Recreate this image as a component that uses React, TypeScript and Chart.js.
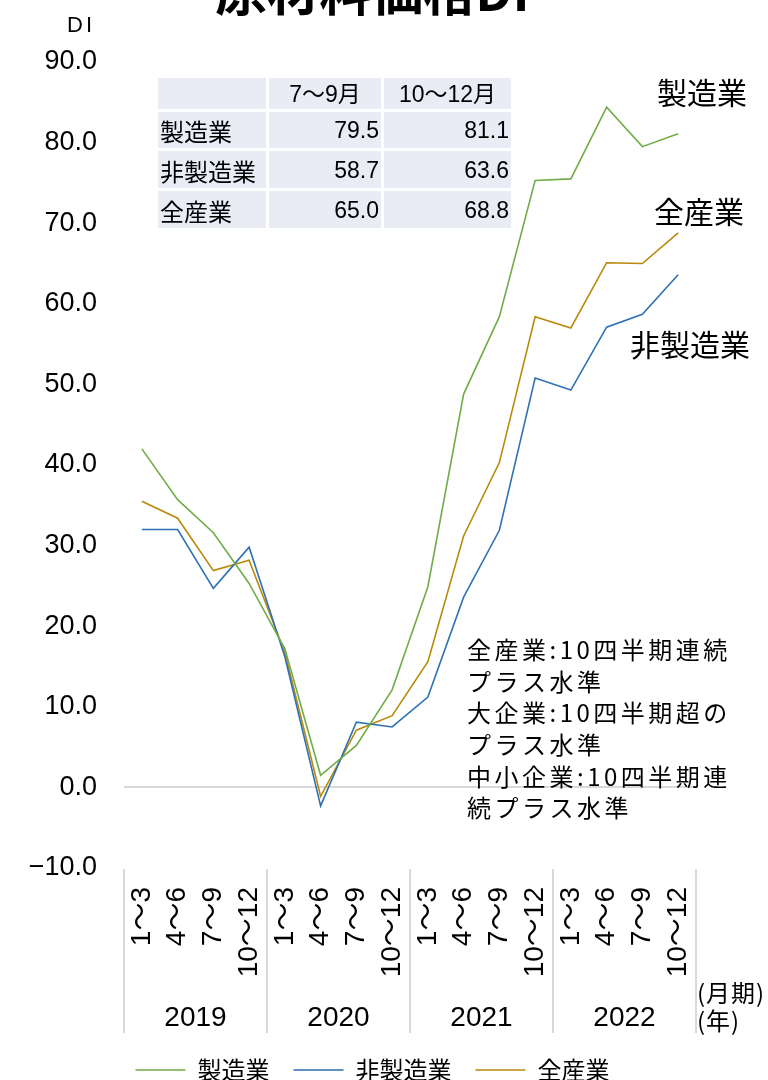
import React, { useEffect, useRef } from "react";
import { Chart, registerables } from "chart.js";

Chart.register(...registerables);

// ---- data ----
const chartTitle = "原材料価格DI";
const yUnit = "DI";
const years = ["2019", "2020", "2021", "2022"];
const quarters = ["1～3", "4～6", "7～9", "10～12"];
const seriesNames = ["製造業", "非製造業", "全産業"];
const manufacturing = [42.0, 35.7, 31.6, 25.3, 17.2, 1.5, 5.2, 12.1, 24.9, 48.8, 58.4, 75.3, 75.5, 84.4, 79.5, 81.1];
const nonManufacturing = [32.0, 32.0, 24.7, 29.8, 16.2, -2.3, 8.1, 7.5, 11.2, 23.6, 31.9, 50.8, 49.3, 57.1, 58.7, 63.6];
const allIndustries = [35.5, 33.4, 26.9, 28.2, 16.7, -1.1, 7.1, 8.9, 15.6, 31.2, 40.3, 58.4, 57.0, 65.1, 65.0, 68.8];
const yMin = -10;
const yMax = 90;
const yStep = 10;
const tableHeaders = ["7～9月", "10～12月"];
const tableRows = ["製造業", "非製造業", "全産業"];
const tableValues = [
  ["79.5", "81.1"],
  ["58.7", "63.6"],
  ["65.0", "68.8"],
];
const notes = [
  "全産業:10四半期連続",
  "プラス水準",
  "大企業:10四半期超の",
  "プラス水準",
  "中小企業:10四半期連",
  "続プラス水準",
];
const axisUnits = ["(月期)", "(年)"];

// ---- styles ----
const COLORS = ["#70AD47", "#2E72B4", "#B8890A"];
const LATIN = '"Liberation Sans", Arial, "Noto Sans CJK JP", sans-serif';
const CJK = '"Noto Sans CJK JP", "Noto Sans CJK SC", sans-serif';
const OFF = 40; // canvas is shifted up by this amount on the page
const CANVAS_H = 1132;

const quarterLabels: string[] = [];
years.forEach(() => quarters.forEach((q) => quarterLabels.push(q)));

const overlayPlugin = {
  id: "overlay",
  afterLayout(chart: any) {
    // let the y tick labels extend into the left padding without being clipped
    const ys = chart.scales.y;
    ys.left = 0;
    ys.width = ys.right;
  },
  afterDraw(chart: any) {
    const ctx = chart.ctx;
    const xs = chart.scales.x;
    const ca = chart.chartArea;
    // year separators
    const step = xs.getPixelForValue(1) - xs.getPixelForValue(0);
    ctx.save();
    ctx.strokeStyle = "#D9D9D9";
    ctx.lineWidth = 2;
    for (let k = 0; k <= years.length; k++) {
      const idx = k * quarters.length;
      const x = k < years.length ? xs.getPixelForValue(idx) - step / 2 : xs.getPixelForValue(idx - 1) + step / 2;
      ctx.beginPath();
      ctx.moveTo(x, ca.bottom + 1);
      ctx.lineTo(x, 1033 + OFF);
      ctx.stroke();
    }
    ctx.restore();

    ctx.save();
    ctx.translate(0, OFF);
    ctx.fillStyle = "#000";
    ctx.textBaseline = "middle";

    // DI unit
    ctx.font = `22px ${LATIN}`;
    ctx.textAlign = "center";
    (ctx as any).letterSpacing = "3px";
    ctx.fillText(yUnit, 81, 26);
    (ctx as any).letterSpacing = "0px";

    // table
    const colX = [
      [158, 266],
      [269, 381],
      [384, 511],
    ];
    const rowY = [
      [78, 109],
      [112, 148],
      [151, 188],
      [191, 228],
    ];
    ctx.fillStyle = "#E9EBF5";
    rowY.forEach((r) => colX.forEach((c) => ctx.fillRect(c[0], r[0], c[1] - c[0], r[1] - r[0])));
    ctx.fillStyle = "#000";
    ctx.font = `23px ${LATIN}`;
    ctx.textAlign = "center";
    tableHeaders.forEach((h, i) => {
      const c = colX[i + 1];
      ctx.fillText(h, (c[0] + c[1]) / 2, (rowY[0][0] + rowY[0][1]) / 2 + 2);
    });
    tableRows.forEach((name, r) => {
      const ry = rowY[r + 1];
      const cy = (ry[0] + ry[1]) / 2 + 2;
      ctx.font = `24px ${CJK}`;
      ctx.textAlign = "left";
      ctx.fillText(name, colX[0][0] + 2, cy);
      ctx.font = `23px ${LATIN}`;
      ctx.textAlign = "right";
      tableValues[r].forEach((v, j) => {
        ctx.fillText(v, colX[j + 1][1] - 2, cy);
      });
    });

    // series labels on the right
    ctx.font = `30px ${CJK}`;
    ctx.textAlign = "left";
    ctx.fillText(seriesNames[0], 657, 93);
    ctx.fillText(seriesNames[2], 654, 212);
    ctx.fillText(seriesNames[1], 630, 345);

    // notes
    ctx.font = `24px ${CJK}`;
    (ctx as any).letterSpacing = "3.5px";
    const noteY = [650, 682, 713, 745, 777, 808];
    notes.forEach((t, i) => ctx.fillText(t, 467, noteY[i]));
    (ctx as any).letterSpacing = "0px";

    // axis units
    ctx.font = `24px ${CJK}`;
    (ctx as any).letterSpacing = "1px";
    ctx.fillText(axisUnits[0], 697, 993);
    ctx.fillText(axisUnits[1], 697, 1021);
    (ctx as any).letterSpacing = "0px";
    ctx.restore();
  },
};

export default function App() {
  const ref = useRef<HTMLCanvasElement>(null);
  useEffect(() => {
    if (!ref.current) return;
    const mk = (label: string, data: number[], color: string) => ({
      label,
      data,
      borderColor: color,
      backgroundColor: color,
      borderWidth: 1.6,
      pointRadius: 0,
      tension: 0,
      fill: false,
    });
    const chart = new Chart(ref.current, {
      type: "line",
      data: {
        labels: quarterLabels,
        datasets: [
          mk(seriesNames[0], manufacturing, COLORS[0]),
          mk(seriesNames[1], nonManufacturing, COLORS[1]),
          mk(seriesNames[2], allIndustries, COLORS[2]),
        ],
      },
      options: {
        responsive: false,
        devicePixelRatio: 1,
        animation: false,
        events: [],
        layout: { padding: { left: 49, right: 72, top: 0, bottom: 0 } },
        scales: {
          x: {
            type: "category",
            offset: true,
            weight: 0,
            grid: { display: false, drawTicks: false },
            border: { display: false },
            ticks: {
              autoSkip: false,
              minRotation: 90,
              maxRotation: 90,
              padding: 19,
              color: "#000",
              font: { size: 28, family: LATIN },
            },
            afterFit: (s: any) => {
              s.height = 122;
            },
          },
          x2: {
            type: "category",
            labels: years,
            position: "bottom",
            offset: true,
            weight: 1,
            grid: { display: false, drawTicks: false },
            border: { display: false },
            ticks: {
              autoSkip: false,
              maxRotation: 0,
              minRotation: 0,
              padding: 11,
              color: "#000",
              font: { size: 28, family: LATIN },
            },
            afterFit: (s: any) => {
              s.height = 44;
            },
          },
          y: {
            min: yMin,
            max: yMax,
            border: { display: false },
            grid: {
              drawTicks: false,
              lineWidth: 2,
              color: (c: any) => (c.tick && c.tick.value === 0 ? "#D9D9D9" : "rgba(0,0,0,0)"),
            },
            ticks: {
              stepSize: yStep,
              padding: 27,
              color: "#000",
              font: { size: 27, family: LATIN },
              callback: (v: any) => (v < 0 ? "−" + Math.abs(v).toFixed(1) : Number(v).toFixed(1)),
            },
            afterFit: (s: any) => {
              s.width = 75;
            },
          },
        },
        plugins: {
          tooltip: { enabled: false },
          title: {
            display: true,
            text: chartTitle,
            color: "#000",
            font: { size: 52, weight: "bold", family: CJK },
            padding: { top: 0, bottom: 39.6 },
          },
          legend: {
            display: true,
            position: "bottom",
            labels: {
              boxWidth: 50,
              boxHeight: 0,
              padding: 24,
              color: "#000",
              font: { size: 24, family: CJK },
            },
          },
        },
      },
      plugins: [overlayPlugin],
    } as any);
    return () => chart.destroy();
  }, []);
  return (
    <div style={{ position: "fixed", left: 0, top: -OFF, width: 768, height: CANVAS_H }}>
      <canvas ref={ref} width={768} height={CANVAS_H} style={{ display: "block" }} />
    </div>
  );
}
